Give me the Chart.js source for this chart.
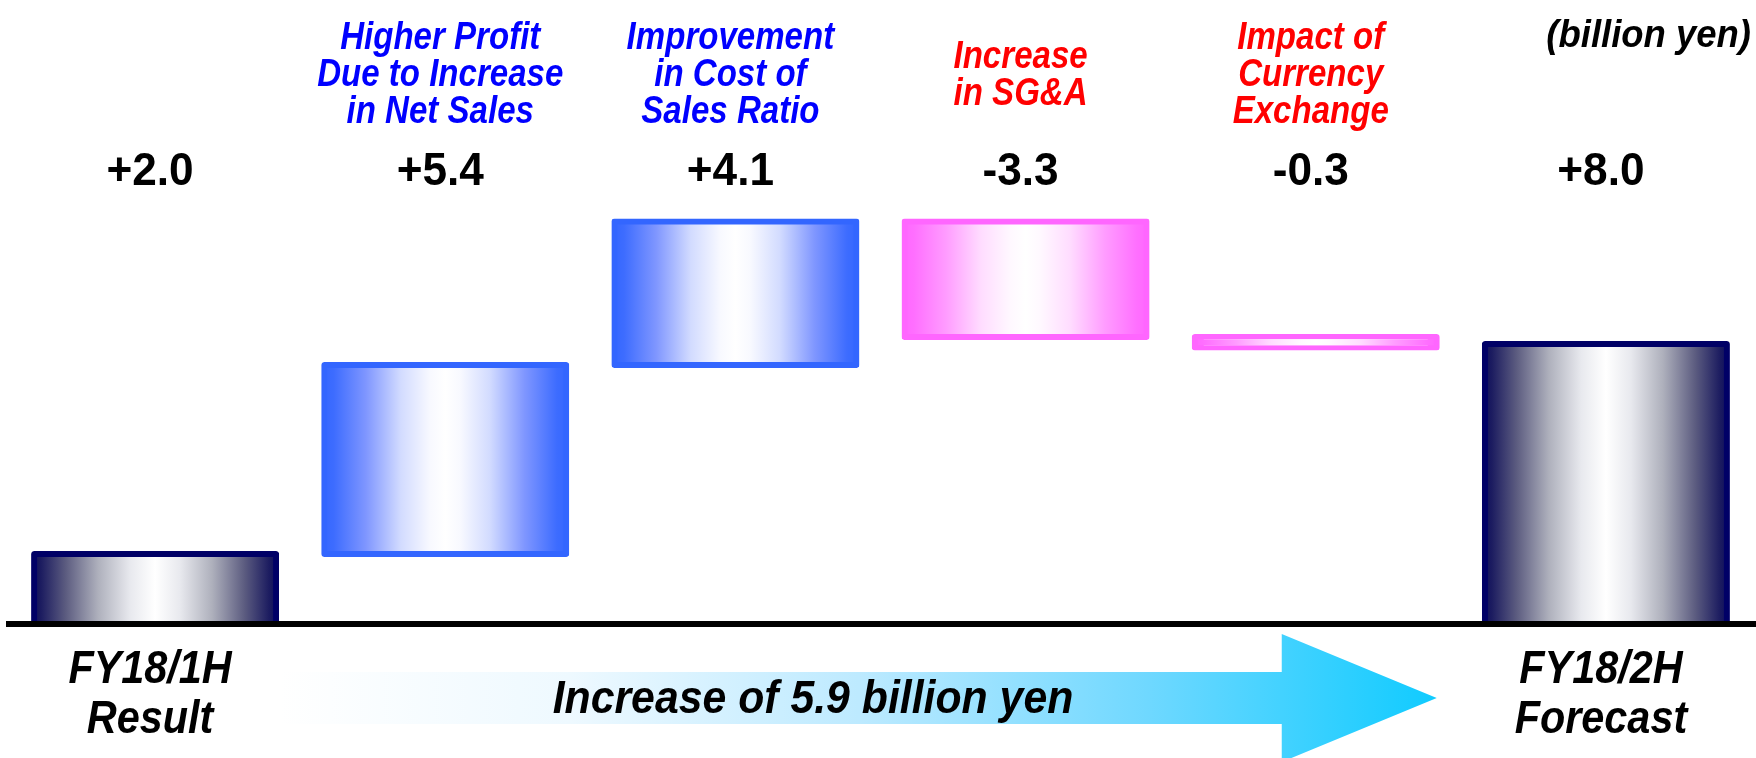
<!DOCTYPE html>
<html>
<head>
<meta charset="utf-8">
<title>Operating profit bridge FY18/1H to FY18/2H</title>
<script src="https://cdn.jsdelivr.net/npm/chart.js@4.4.1/dist/chart.umd.min.js"></script>
<style>
  html, body { margin: 0; padding: 0; background: #ffffff; overflow: hidden; }
  #wrap { width: 1756px; height: 758px; position: relative; }
</style>
</head>
<body>
<div id="wrap"><canvas id="bridge"></canvas></div>
<script>
// ---- data (billion yen) ----
const categories = [
  'FY18/1H Result',
  'Higher Profit Due to Increase in Net Sales',
  'Improvement in Cost of Sales Ratio',
  'Increase in SG&A',
  'Impact of Currency Exchange',
  'FY18/2H Forecast'
];
const changes = [2.0, 5.4, 4.1, -3.3, -0.3, 8.0];
const barKinds = ['total', 'gain', 'gain', 'loss', 'loss', 'total'];
const headerLines = [
  [],
  ['Higher Profit', 'Due to Increase', 'in Net Sales'],
  ['Improvement', 'in Cost of', 'Sales Ratio'],
  ['Increase', 'in SG&A'],
  ['Impact of', 'Currency', 'Exchange'],
  []
];
const footerLines = [['FY18/1H', 'Result'], [], [], [], [], ['FY18/2H', 'Forecast']];
const unitLabel = '(billion yen)';
const periodIncrease = 5.9;

// floating ranges for the waterfall: totals start at zero, steps start at the running level
const ranges = [];
let running = 0;
changes.forEach((v, i) => {
  if (barKinds[i] === 'total') { ranges.push([0, v]); running = v; }
  else { ranges.push([running, running + v]); running += v; }
});

// ---- styling ----
const FONT = '"Liberation Sans", Arial, Helvetica, sans-serif';
const BAR_FRACTION = 0.834;
const palette = {
  total: {
    edge: '#000066', text: '#000000',
    stops: [[0, '#0a0a5c'], [0.04, '#1c1c60'], [0.14, '#5c5c80'], [0.27, '#aeb0bc'],
            [0.4, '#e8e9ee'], [0.5, '#ffffff'], [0.6, '#e8e9ee'], [0.73, '#aeb0bc'],
            [0.86, '#5c5c80'], [0.96, '#1c1c60'], [1, '#0a0a5c']]
  },
  gain: {
    edge: '#3366ff', text: '#0000ff',
    stops: [[0, '#3366ff'], [0.05, '#3d6cff'], [0.18, '#7f96ff'], [0.32, '#d2dbff'],
            [0.44, '#f8f9ff'], [0.5, '#ffffff'], [0.56, '#f8f9ff'], [0.68, '#d2dbff'],
            [0.82, '#7f96ff'], [0.95, '#3d6cff'], [1, '#3366ff']]
  },
  loss: {
    edge: '#ff66ff', text: '#ff0000',
    stops: [[0, '#ff66ff'], [0.05, '#ff6fff'], [0.18, '#ff9cff'], [0.32, '#ffdcff'],
            [0.44, '#fff8ff'], [0.5, '#ffffff'], [0.56, '#fff8ff'], [0.68, '#ffdcff'],
            [0.82, '#ff9cff'], [0.95, '#ff6fff'], [1, '#ff66ff']]
  }
};

function barFill(c) {
  const chart = c.chart;
  const xs = chart.scales && chart.scales.x;
  const p = palette[barKinds[c.dataIndex]];
  if (!xs || !xs.width) return p.edge;
  const cx = xs.getPixelForValue(c.dataIndex);
  const half = (xs.width / categories.length) * BAR_FRACTION / 2 + 3;
  const g = chart.ctx.createLinearGradient(cx - half, 0, cx + half, 0);
  p.stops.forEach(([o, col]) => g.addColorStop(o, col));
  return g;
}

function fmtChange(v) {
  return (v > 0 ? '+' : v < 0 ? '-' : '') + Math.abs(v).toFixed(1);
}

// condensed text: draw at a given size, squeezed horizontally
function drawText(ctx, text, x, y, font, sx, align) {
  ctx.save();
  ctx.translate(x, y);
  ctx.scale(sx, 1);
  ctx.font = font;
  ctx.textAlign = align || 'center';
  ctx.textBaseline = 'alphabetic';
  ctx.fillText(text, 0, 0);
  ctx.restore();
}

// baseline, arrow and all text labels
const bridgeDecor = {
  id: 'bridgeDecor',
  afterDatasetsDraw(chart) {
    const { ctx } = chart;
    const y0 = chart.scales.y.getPixelForValue(0);
    ctx.save();
    ctx.fillStyle = '#000000';
    ctx.fillRect(6, Math.round(y0) - 3, chart.width - 6, 6);
    ctx.restore();
  },
  afterDraw(chart) {
    const { ctx } = chart;
    const xs = chart.scales.x;
    const meta = chart.getDatasetMeta(0);
    const shift = -5;

    // growth arrow under the bars, from the first bar's edge to the last step's edge
    const first = meta.data[0], lastStep = meta.data[meta.data.length - 2];
    const xStart = first.x + first.width / 2 + 4;
    const xTip = lastStep.x + lastStep.width / 2;
    const yMid = 698, shaftHalf = 26, headHalf = 64, headLen = 155;
    ctx.save();
    const ag = ctx.createLinearGradient(xStart, 0, xTip, 0);
    ag.addColorStop(0, '#ffffff');
    ag.addColorStop(0.25, '#eef9ff');
    ag.addColorStop(0.5, '#bdeaff');
    ag.addColorStop(0.75, '#6fd8ff');
    ag.addColorStop(1, '#10cbff');
    ctx.fillStyle = ag;
    ctx.beginPath();
    ctx.moveTo(xStart, yMid - shaftHalf);
    ctx.lineTo(xTip - headLen, yMid - shaftHalf);
    ctx.lineTo(xTip - headLen, yMid - headHalf);
    ctx.lineTo(xTip, yMid);
    ctx.lineTo(xTip - headLen, yMid + headHalf);
    ctx.lineTo(xTip - headLen, yMid + shaftHalf);
    ctx.lineTo(xStart, yMid + shaftHalf);
    ctx.closePath();
    ctx.fill();

    ctx.fillStyle = '#000000';
    drawText(ctx, 'Increase of ' + periodIncrease.toFixed(1) + ' billion yen', 813, 713,
             'italic bold 46px ' + FONT, 0.93);

    // per-bar labels
    categories.forEach((_, i) => {
      const cx = xs.getPixelForValue(i) + shift;
      const col = palette[barKinds[i]].text;

      const lines = headerLines[i];
      if (lines.length) {
        ctx.fillStyle = col;
        const step = 37;
        const top = 86 - (lines.length - 1) * step / 2;
        lines.forEach((t, k) => drawText(ctx, t, cx, top + k * step, 'italic bold 38px ' + FONT, 0.87));
      }

      ctx.fillStyle = '#000000';
      drawText(ctx, fmtChange(changes[i]), cx, 185, 'bold 46px ' + FONT, 0.96);

      const foot = footerLines[i];
      if (foot.length) {
        ctx.fillStyle = '#000000';
        foot.forEach((t, k) => drawText(ctx, t, cx, 683 + k * 50, 'italic bold 46px ' + FONT, 0.9));
      }
    });

    ctx.fillStyle = '#000000';
    drawText(ctx, unitLabel, 1751, 47, 'italic bold 38px ' + FONT, 0.96, 'right');
    ctx.restore();
  }
};

new Chart(document.getElementById('bridge'), {
  type: 'bar',
  data: {
    labels: categories,
    datasets: [{
      data: ranges,
      backgroundColor: barFill,
      borderColor: (c) => palette[barKinds[c.dataIndex]].edge,
      borderWidth: 6,
      borderSkipped: false,
      borderRadius: 3,
      inflateAmount: 3,
      barPercentage: BAR_FRACTION,
      categoryPercentage: 1
    }]
  },
  options: {
    responsive: true,
    maintainAspectRatio: false,
    animation: false,
    devicePixelRatio: 1,
    layout: { padding: { left: 10, right: 5, top: 1, bottom: 134 } },
    scales: {
      x: { display: false },
      y: { display: false, min: 0, max: 17.8 }
    },
    plugins: {
      legend: { display: false },
      tooltip: { enabled: false }
    },
    events: []
  },
  plugins: [bridgeDecor]
});
</script>
</body>
</html>
